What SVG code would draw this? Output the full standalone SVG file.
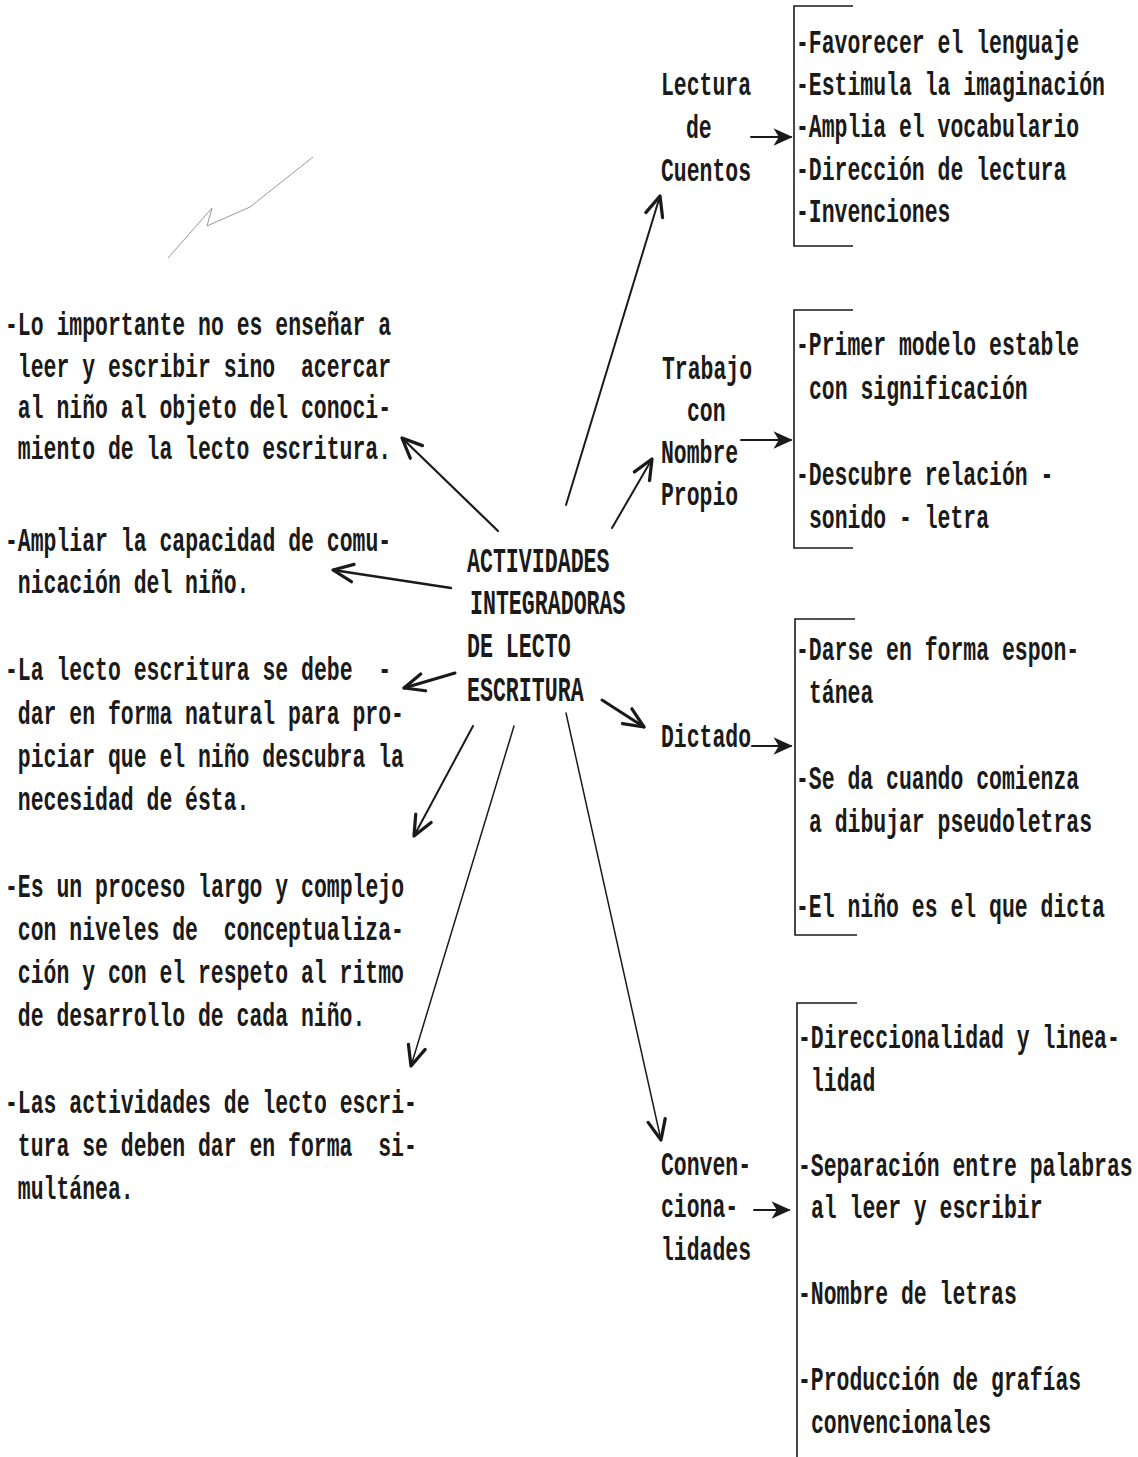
<svg xmlns="http://www.w3.org/2000/svg" width="1138" height="1457" viewBox="0 0 1138 1457">
<defs>
<style>
text{font-family:"Liberation Mono","DejaVu Sans Mono",monospace;font-weight:bold;fill:#1a1a1a;white-space:pre;}
.t{font-size:33px;}
.c{font-size:36px;}
.ln{fill:none;stroke:#1a1a1a;stroke-linecap:round;}
.br{fill:none;stroke:#1a1a1a;stroke-width:1.6;}
</style>
<marker id="v" markerUnits="userSpaceOnUse" markerWidth="30" markerHeight="30" refX="0" refY="0" viewBox="-20 -12 24 24" orient="auto" overflow="visible">
<path d="M-16,-7 L0,0 L-16,7" fill="none" stroke="#1a1a1a" stroke-width="2.6" stroke-linecap="round" stroke-linejoin="round"/>
</marker>
<marker id="h" markerUnits="userSpaceOnUse" markerWidth="20" markerHeight="20" refX="0" refY="0" viewBox="-12 -6 14 12" orient="auto" overflow="visible">
<path d="M-11,-5 L0,0 L-11,5 L-8,0 Z" fill="#1a1a1a" stroke="#1a1a1a" stroke-width="1"/>
</marker>
</defs>
<rect width="1138" height="1457" fill="#ffffff"/>

<path d="M168,258 L212,208 L207,226 Q225,218 250,207 L313,157" fill="none" stroke="#999" stroke-width="1"/>

<g id="connectors">
<line class="ln" x1="498" y1="531" x2="402" y2="438" stroke-width="2.2" marker-end="url(#v)"/>
<line class="ln" x1="451" y1="588" x2="333" y2="570" stroke-width="2.4" marker-end="url(#v)"/>
<line class="ln" x1="455" y1="673" x2="404" y2="688" stroke-width="3" marker-end="url(#v)"/>
<line class="ln" x1="473" y1="726" x2="414" y2="836" stroke-width="2" marker-end="url(#v)"/>
<line class="ln" x1="514" y1="726" x2="411" y2="1066" stroke-width="1.5" marker-end="url(#v)"/>
<line class="ln" x1="566" y1="713" x2="661" y2="1140" stroke-width="1.5" marker-end="url(#v)"/>
<line class="ln" x1="602" y1="700" x2="644" y2="727" stroke-width="3" marker-end="url(#v)"/>
<line class="ln" x1="566" y1="505" x2="660" y2="196" stroke-width="2" marker-end="url(#v)"/>
<line class="ln" x1="612" y1="528" x2="652" y2="459" stroke-width="2" marker-end="url(#v)"/>
<line class="ln" x1="751" y1="137" x2="791" y2="137" stroke-width="2" marker-end="url(#h)"/>
<line class="ln" x1="741" y1="440" x2="791" y2="440" stroke-width="2" marker-end="url(#h)"/>
<line class="ln" x1="752" y1="746" x2="791" y2="746" stroke-width="2" marker-end="url(#h)"/>
<line class="ln" x1="754" y1="1210" x2="789" y2="1210" stroke-width="2" marker-end="url(#h)"/>
</g>

<g id="center">
<text class="c" transform="matrix(0.6 0 0 1 467 572)">ACTIVIDADES</text>
<text class="c" transform="matrix(0.6 0 0 1 470 614)">INTEGRADORAS</text>
<text class="c" transform="matrix(0.6 0 0 1 467 657)">DE LECTO</text>
<text class="c" transform="matrix(0.6 0 0 1 467 701)">ESCRITURA</text>
</g>

<g id="left-1">
<text class="t" transform="matrix(0.65 0 0 1 5 335)">-Lo importante no es enseñar a</text>
<text class="t" transform="matrix(0.65 0 0 1 17.8 377)">leer y escribir sino  acercar</text>
<text class="t" transform="matrix(0.65 0 0 1 17.8 418)">al niño al objeto del conoci-</text>
<text class="t" transform="matrix(0.65 0 0 1 17.8 459)">miento de la lecto escritura.</text>
</g>
<g id="left-2">
<text class="t" transform="matrix(0.65 0 0 1 5 551)">-Ampliar la capacidad de comu-</text>
<text class="t" transform="matrix(0.65 0 0 1 17.8 593)">nicación del niño.</text>
</g>
<g id="left-3">
<text class="t" transform="matrix(0.65 0 0 1 5 680)">-La lecto escritura se debe  -</text>
<text class="t" transform="matrix(0.65 0 0 1 17.8 724)">dar en forma natural para pro-</text>
<text class="t" transform="matrix(0.65 0 0 1 17.8 767)">piciar que el niño descubra la</text>
<text class="t" transform="matrix(0.65 0 0 1 17.8 810)">necesidad de ésta.</text>
</g>
<g id="left-4">
<text class="t" transform="matrix(0.65 0 0 1 5 897)">-Es un proceso largo y complejo</text>
<text class="t" transform="matrix(0.65 0 0 1 17.8 940)">con niveles de  conceptualiza-</text>
<text class="t" transform="matrix(0.65 0 0 1 17.8 983)">ción y con el respeto al ritmo</text>
<text class="t" transform="matrix(0.65 0 0 1 17.8 1026)">de desarrollo de cada niño.</text>
</g>
<g id="left-5">
<text class="t" transform="matrix(0.65 0 0 1 5 1113)">-Las actividades de lecto escri-</text>
<text class="t" transform="matrix(0.65 0 0 1 17.8 1156)">tura se deben dar en forma  si-</text>
<text class="t" transform="matrix(0.65 0 0 1 17.8 1199)">multánea.</text>
</g>

<g id="lectura">
<text class="t" transform="matrix(0.65 0 0 1 661 95)">Lectura</text>
<text class="t" transform="matrix(0.65 0 0 1 686 138)">de</text>
<text class="t" transform="matrix(0.65 0 0 1 661 181)">Cuentos</text>
</g>
<g id="nombre">
<text class="t" transform="matrix(0.65 0 0 1 662 379)">Trabajo</text>
<text class="t" transform="matrix(0.65 0 0 1 687 421)">con</text>
<text class="t" transform="matrix(0.65 0 0 1 661 463)">Nombre</text>
<text class="t" transform="matrix(0.65 0 0 1 661 505)">Propio</text>
</g>
<g id="dictado">
<text class="t" transform="matrix(0.65 0 0 1 661 747)">Dictado</text>
</g>
<g id="convencionalidades">
<text class="t" transform="matrix(0.65 0 0 1 661 1175)">Conven-</text>
<text class="t" transform="matrix(0.65 0 0 1 661 1217)">ciona-</text>
<text class="t" transform="matrix(0.65 0 0 1 661 1260)">lidades</text>
</g>

<g id="list-lectura">
<path class="br" d="M853,6 L794,6 L794,246 L853,246"/>
<text class="t" transform="matrix(0.65 0 0 1 796 53)">-Favorecer el lenguaje</text>
<text class="t" transform="matrix(0.65 0 0 1 796 95)">-Estimula la imaginación</text>
<text class="t" transform="matrix(0.65 0 0 1 796 137)">-Amplia el vocabulario</text>
<text class="t" transform="matrix(0.65 0 0 1 796 180)">-Dirección de lectura</text>
<text class="t" transform="matrix(0.65 0 0 1 796 222)">-Invenciones</text>
</g>
<g id="list-nombre">
<path class="br" d="M853,310 L794,310 L794,548 L853,548"/>
<text class="t" transform="matrix(0.65 0 0 1 796 355)">-Primer modelo estable</text>
<text class="t" transform="matrix(0.65 0 0 1 808.9 399)">con significación</text>
<text class="t" transform="matrix(0.65 0 0 1 796 485)">-Descubre relación -</text>
<text class="t" transform="matrix(0.65 0 0 1 808.9 528)">sonido - letra</text>
</g>
<g id="list-dictado">
<path class="br" d="M855,619 L795,619 L795,935 L857,935"/>
<text class="t" transform="matrix(0.65 0 0 1 796 660)">-Darse en forma espon-</text>
<text class="t" transform="matrix(0.65 0 0 1 808.9 703)">tánea</text>
<text class="t" transform="matrix(0.65 0 0 1 796 789)">-Se da cuando comienza</text>
<text class="t" transform="matrix(0.65 0 0 1 808.9 832)">a dibujar pseudoletras</text>
<text class="t" transform="matrix(0.65 0 0 1 796 917)">-El niño es el que dicta</text>
</g>
<g id="list-convencionalidades">
<path class="br" d="M857,1003 L797,1003 L797,1457"/>
<text class="t" transform="matrix(0.65 0 0 1 798 1048)">-Direccionalidad y linea-</text>
<text class="t" transform="matrix(0.65 0 0 1 810.9 1091)">lidad</text>
<text class="t" transform="matrix(0.65 0 0 1 798 1176)">-Separación entre palabras</text>
<text class="t" transform="matrix(0.65 0 0 1 810.9 1218)">al leer y escribir</text>
<text class="t" transform="matrix(0.65 0 0 1 798 1304)">-Nombre de letras</text>
<text class="t" transform="matrix(0.65 0 0 1 798 1390)">-Producción de grafías</text>
<text class="t" transform="matrix(0.65 0 0 1 810.9 1433)">convencionales</text>
</g>
</svg>
